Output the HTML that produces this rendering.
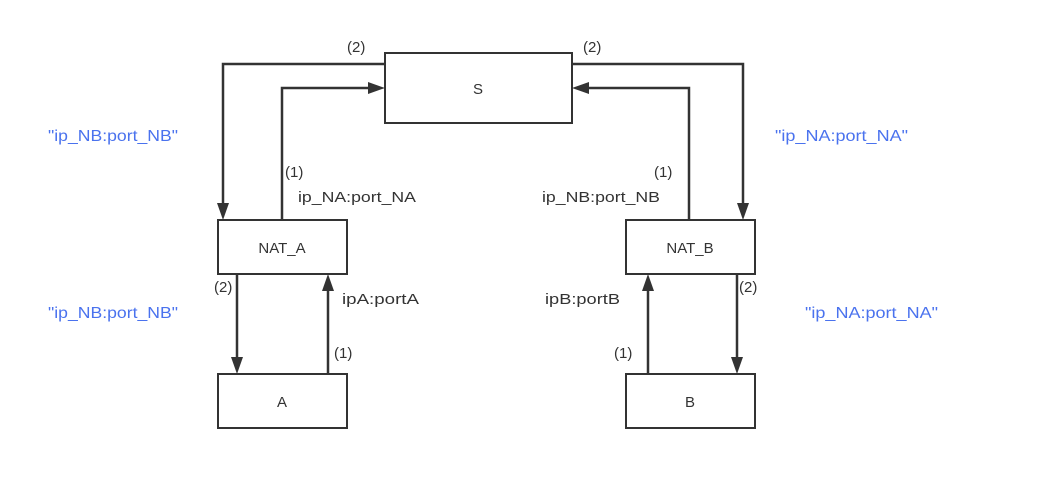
<!DOCTYPE html>
<html><head><meta charset="utf-8"><style>
html,body{margin:0;padding:0;background:#fff;}
svg{display:block;}
text{font-family:"Liberation Sans",sans-serif;font-size:15px;fill:#333;}
.b{fill:#4a72ee;font-size:16px;}
</style></head><body>
<svg width="1038" height="477" viewBox="0 0 1038 477" xmlns="http://www.w3.org/2000/svg">
<g fill="#fff" stroke="#333" stroke-width="2">
<rect x="385" y="53" width="187" height="70"/>
<rect x="218" y="220" width="129" height="54"/>
<rect x="626" y="220" width="129" height="54"/>
<rect x="218" y="374" width="129" height="54"/>
<rect x="626" y="374" width="129" height="54"/>
</g>
<g fill="none" stroke="#333" stroke-width="2.5">
<polyline points="385,64 223,64 223,206"/>
<polyline points="282,220 282,88 371,88"/>
<polyline points="572,64 743,64 743,206"/>
<polyline points="689,220 689,88 586,88"/>
<line x1="237" y1="274" x2="237" y2="360"/>
<line x1="328" y1="374" x2="328" y2="288"/>
<line x1="737" y1="274" x2="737" y2="360"/>
<line x1="648" y1="374" x2="648" y2="288"/>
</g>
<g fill="#333">
<polygon points="217,203 229,203 223,220"/>
<polygon points="737,203 749,203 743,220"/>
<polygon points="368,82 368,94 385,88"/>
<polygon points="589,82 589,94 572,88"/>
<polygon points="231,357 243,357 237,374"/>
<polygon points="731,357 743,357 737,374"/>
<polygon points="322,291 334,291 328,274"/>
<polygon points="642,291 654,291 648,274"/>
</g>
<text x="478" y="94" text-anchor="middle">S</text>
<text x="282" y="253" text-anchor="middle">NAT_A</text>
<text x="690" y="253" text-anchor="middle">NAT_B</text>
<text x="282" y="407" text-anchor="middle">A</text>
<text x="690" y="407" text-anchor="middle">B</text>
<text x="347" y="52">(2)</text>
<text x="583" y="52">(2)</text>
<text x="285" y="177">(1)</text>
<text x="298" y="202" textLength="118" lengthAdjust="spacingAndGlyphs">ip_NA:port_NA</text>
<text x="654" y="177">(1)</text>
<text x="542" y="202" textLength="118" lengthAdjust="spacingAndGlyphs">ip_NB:port_NB</text>
<text x="214" y="292">(2)</text>
<text x="342" y="304" textLength="77" lengthAdjust="spacingAndGlyphs">ipA:portA</text>
<text x="334" y="358">(1)</text>
<text x="545" y="304" textLength="75" lengthAdjust="spacingAndGlyphs">ipB:portB</text>
<text x="614" y="358">(1)</text>
<text x="739" y="292">(2)</text>
<text class="b" x="48" y="141" textLength="130" lengthAdjust="spacingAndGlyphs">"ip_NB:port_NB"</text>
<text class="b" x="48" y="318" textLength="130" lengthAdjust="spacingAndGlyphs">"ip_NB:port_NB"</text>
<text class="b" x="775" y="141" textLength="133" lengthAdjust="spacingAndGlyphs">"ip_NA:port_NA"</text>
<text class="b" x="805" y="318" textLength="133" lengthAdjust="spacingAndGlyphs">"ip_NA:port_NA"</text>
</svg>
</body></html>
